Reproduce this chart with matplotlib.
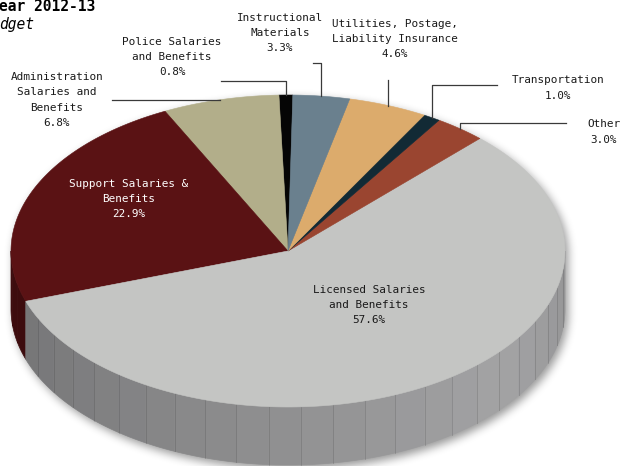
import numpy as np
import matplotlib.pyplot as plt
from matplotlib.patches import Polygon

# budget shares, listed counter-clockwise starting just left of 12 o'clock
labels = ["Police Salaries\nand Benefits",
          "Administration\nSalaries and\nBenefits",
          "Support Salaries &\nBenefits",
          "Licensed Salaries\nand Benefits",
          "Other",
          "Transportation",
          "Utilities, Postage,\nLiability Insurance",
          "Instructional\nMaterials"]
shares = [0.8, 6.8, 22.9, 57.6, 3.0, 1.0, 4.6, 3.3]
colors = ["#050505", "#b2ae8a", "#5a1214", "#c4c5c3",
          "#9a4530", "#122a35", "#dcab6c", "#6a808e"]

# label block centres and leader routing (start x, elbow y; None = level with rim)
label_pos = [(172, 57), (57, 100), (129, 199), (369, 305),
             (604, 132), (558, 88), (395, 39), (280, 33)]
leaders = [(221, 81), (112, None), None, None,
           (566, 123), (497, 85), ("rim", 80), (313, 63)]
label_color = ["#1a1a1a", "#1a1a1a", "white", "#1a1a1a",
               "#1a1a1a", "#1a1a1a", "#1a1a1a", "#1a1a1a"]

W, H = 621, 466
cx, cy = 288, 251
a, b = 277, 156
depth = 58
start = 89.0

def rim(t, dy=0.0):
    t = np.radians(np.asarray(t, dtype=float))
    return np.column_stack([cx + a * np.cos(t), cy - b * np.sin(t) + dy])

def shade(c, f):
    rgb = np.array(plt.matplotlib.colors.to_rgb(c))
    return tuple(rgb * f)

def box_blur(img, r):
    k = np.ones(2 * r + 1) / (2 * r + 1)
    img = np.apply_along_axis(lambda v: np.convolve(v, k, mode="same"), 0, img)
    return np.apply_along_axis(lambda v: np.convolve(v, k, mode="same"), 1, img)

fig = plt.figure(figsize=(W / 100, H / 100), dpi=100)
ax = fig.add_axes([0, 0, 1, 1])
ax.set_xlim(0, W)
ax.set_ylim(H, 0)
ax.axis("off")

mono = "DejaVu Sans Mono"

# soft drop shadow: blurred silhouette of the disc, nudged down-right
pad = 40
yy, xx = np.mgrid[-pad:H + pad, -pad:W + pad] + 0.5
sx, sy = xx - 3, yy - 4
u = (sx - cx) / a
in_top = u ** 2 + ((sy - cy) / b) ** 2 <= 1
in_bot = u ** 2 + ((sy - cy - depth) / b) ** 2 <= 1
in_mid = (np.abs(u) <= 1) & (sy >= cy) & (sy <= cy + depth)
mask = (in_top | in_bot | in_mid).astype(float)
for _ in range(3):
    mask = box_blur(mask, 4)
shadow = np.zeros(mask.shape + (4,))
shadow[..., 3] = mask * 0.42
ax.imshow(shadow, extent=(-pad, W + pad, H + pad, -pad), zorder=1,
          interpolation="bilinear")
ax.set_xlim(0, W)
ax.set_ylim(H, 0)

bounds = start + 360 * np.concatenate([[0], np.cumsum(shares)]) / sum(shares)

# front wall, cut into facets
for i, c in enumerate(colors):
    t0, t1 = max(bounds[i], 180), min(bounds[i + 1], 360)
    if t1 <= t0:
        continue
    n = max(1, int(np.ceil((t1 - t0) / 7)))
    edges = np.linspace(t0, t1, n + 1)
    for k in range(n):
        ta, tb = edges[k], edges[k + 1]
        ts = np.linspace(ta, tb, 12)
        poly = np.vstack([rim(ts), rim(ts[::-1], depth)])
        if c == "#c4c5c3":
            tm = 0.5 * (ta + tb)
            if tm < 320:
                g = 0.46 + (0.64 - 0.46) * (tm - 198) / (320 - 198)
            else:
                g = 0.64 - 0.06 * (tm - 320) / 40
            fc = (g, g, g + 0.005)
        else:
            fc = shade(c, 0.68)
        ax.add_patch(Polygon(poly, closed=True, facecolor=fc, edgecolor=fc,
                             lw=0.5, zorder=2))
        if c == "#c4c5c3" and k > 0:
            p = np.vstack([rim([ta]), rim([ta], depth)])
            ax.plot(p[:, 0], p[:, 1], color=(0, 0, 0), alpha=0.12, lw=0.7, zorder=3)

# top face
for i, c in enumerate(colors):
    ts = np.linspace(bounds[i], bounds[i + 1], 200)
    poly = np.vstack([[cx, cy], rim(ts)])
    ax.add_patch(Polygon(poly, closed=True, facecolor=c, edgecolor=c,
                         lw=0.4, zorder=4))

# labels and leader lines
for i, lab in enumerate(labels):
    x, y = label_pos[i]
    ax.text(x, y, f"{lab}\n{shares[i]:.1f}%", ha="center", va="center",
            family=mono, fontsize=7.9, linespacing=1.65,
            color=label_color[i], zorder=6)
    if leaders[i] is None:
        continue
    mid = 0.5 * (bounds[i] + bounds[i + 1])
    xr, yr = rim([mid])[0]
    x0, ye = leaders[i]
    if x0 == "rim":
        x0 = xr
    if ye is None:
        ye = yr
    ax.plot([x0, xr, xr], [ye, ye, yr], color="#3a3a3a", lw=0.9, zorder=5)

ax.text(-1, 11, "ear 2012-13", ha="left", va="baseline", family=mono,
        fontsize=10.5, fontweight="bold", color="black")
ax.text(-1, 29, "dget", ha="left", va="baseline", family=mono,
        fontsize=10.5, style="italic", color="black")

fig.savefig("out.png", dpi=100)
